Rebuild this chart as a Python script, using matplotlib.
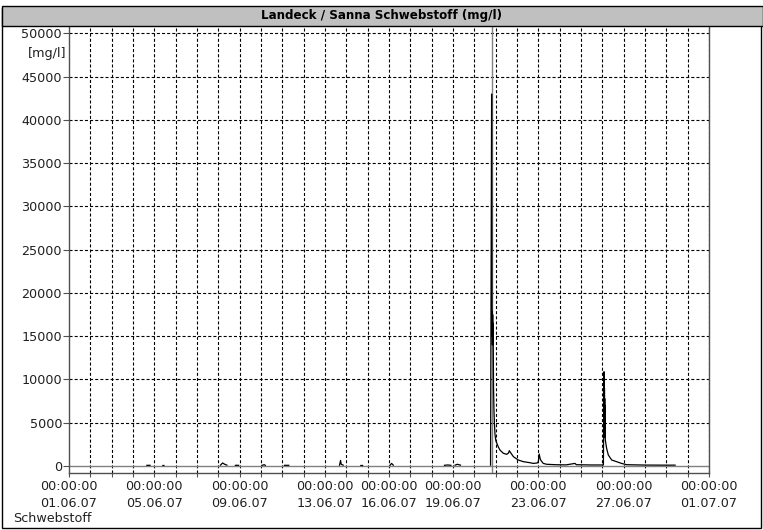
import numpy as np
import matplotlib
matplotlib.use("Agg")
import matplotlib.pyplot as plt
from matplotlib.patches import Rectangle
from matplotlib.ticker import FixedLocator, FixedFormatter

plt.rcParams['font.family'] = ['DejaVu Sans']
plt.rcParams['lines.scale_dashes'] = False

W, H = 763, 530

# Time axis: days since 01.06.07 00:00
tick_days = [0, 4, 8, 12, 15, 18, 22, 26, 30]
tick_dates = ["01.06.07", "05.06.07", "09.06.07", "13.06.07", "16.06.07",
              "19.06.07", "23.06.07", "27.06.07", "01.07.07"]
tick_times = ["00:00:00"] * len(tick_dates)
grid_days = list(range(0, 31))
y_ticks = [0, 5000, 10000, 15000, 20000, 25000, 30000, 35000, 40000, 45000, 50000]

# Suspended sediment measurements (mg/l); NaN marks gaps in the record
nan = np.nan
t_days = [
    3.65, 3.80, nan,
    4.40, 4.45, nan,
    7.10, 7.20, 7.30, 7.40, nan,
    7.80, 7.95, nan,
    9.05, 9.15, 9.20, nan,
    10.10, 10.30, nan,
    12.68, 12.73, 12.76, 12.85, nan,
    13.68, 13.76, nan,
    15.05, 15.12, 15.20, nan,
    17.60, 17.75, 17.90, nan,
    18.10, 18.20, 18.35, nan,
    19.76, 19.81, 19.83, 19.84, 19.85, 19.86, 19.87, 19.88, 19.90, 19.92,
    19.94, 19.97, 20.01, 20.05,
    20.12, 20.20, 20.36, 20.52, 20.60, 20.64, 20.70, 20.83, 21.06, 21.30,
    21.61, 21.76, 21.95, 22.00, 22.04, 22.08, 22.11, 22.23, 22.39, 22.80,
    23.30, 23.72, 23.78, 24.50, 25.05, 25.080, 25.085, 25.090, 25.095,
    25.100, 25.105, 25.110, 25.115, 25.120, 25.125, 25.130, 25.140,
    25.20, 25.28, 25.44, 25.67, 25.90, 26.14, 27.00, 27.80,
    28.41,
]
conc = [
    80, 80, nan,
    60, 60, nan,
    100, 350, 200, 100, nan,
    80, 80, nan,
    80, 150, 80, nan,
    80, 80, nan,
    100, 650, 200, 100, nan,
    60, 60, nan,
    100, 300, 100, nan,
    80, 120, 80, nan,
    100, 200, 100, nan,
    100, 43000, 15000, 17800, 14000, 17500, 14200, 16500, 9000, 6500,
    5000, 3600, 2900, 2660,
    2230, 1850, 1470, 1350, 1500, 1770, 1540, 1080, 690, 500,
    380, 300, 350, 500, 1390, 900, 690, 300, 200, 150,
    130, 300, 150, 120, 120, 10900, 5000, 8400, 3300,
    9000, 4000, 7800, 3400, 7000, 3600, 5500, 3000,
    2050, 1270, 690, 500, 300, 150, 110, 100,
    100,
]
cursor_day = 19.81

fig = plt.figure(figsize=(W / 100, H / 100), dpi=100)
fig.patch.set_facecolor("white")


def fx(px):
    return px / W


def fy(py):
    return 1 - py / H


# outer frame
fig.add_artist(Rectangle((fx(2), fy(528)), fx(759), (526 - 6) / H,
                         transform=fig.transFigure, facecolor="none",
                         edgecolor="black", lw=1.0))
# title bar
fig.add_artist(Rectangle((fx(2), fy(26)), fx(761), 20 / H,
                         transform=fig.transFigure, facecolor="#c0c0c0",
                         edgecolor="black", lw=1.0))
fig.text(0.5, fy(16), "Landeck / Sanna Schwebstoff (mg/l)", ha="center",
         va="center", fontsize=8.6, fontweight="bold", color="black")

ax = fig.add_axes([fx(69), fy(473), (709 - 69) / W, (473 - 27) / H])
ax.set_xlim(0, 30)
ax.set_ylim(-809, 50750)

grid_style = dict(color="black", lw=0.8, dashes=(2.2, 1.5))
for d in grid_days[1:]:
    ax.axvline(d, **grid_style, zorder=1)
for v in y_ticks[1:]:
    ax.axhline(v, **grid_style, zorder=1)
ax.axhline(0, color="#808080", lw=1.0, zorder=2)
ax.axvline(cursor_day, color="#808080", lw=1.0, zorder=2)

ax.plot(t_days, conc, color="black", lw=0.9, zorder=3)

ax.spines["top"].set_visible(False)
for side in ("left", "bottom", "right"):
    ax.spines[side].set_color("#505050")
    ax.spines[side].set_linewidth(1.0)

ax.xaxis.set_major_locator(FixedLocator(tick_days))
ax.xaxis.set_major_formatter(FixedFormatter(
    [f"{t}\n{d}" for t, d in zip(tick_times, tick_dates)]))
ax.xaxis.set_minor_locator(FixedLocator(grid_days))
ax.tick_params(axis="x", which="both", direction="out", length=3,
               width=0.8, color="#505050", pad=2, labelsize=9.2,
               labelcolor="#202020")
for lab in ax.get_xticklabels():
    lab.set_linespacing(1.45)

ax.yaxis.set_major_locator(FixedLocator(y_ticks))
ax.yaxis.set_major_formatter(FixedFormatter([str(v) for v in y_ticks]))
ax.tick_params(axis="y", direction="out", length=4, width=0.8,
               color="#505050", pad=1, labelsize=9.2, labelcolor="#202020")

fig.text(fx(66), fy(53), "[mg/l]", ha="right", va="center", fontsize=9.2,
         color="#202020")
fig.text(fx(13), fy(518), "Schwebstoff", ha="left", va="center",
         fontsize=9.2, color="#202020")

fig.savefig("out.png", dpi=100, facecolor="white")
